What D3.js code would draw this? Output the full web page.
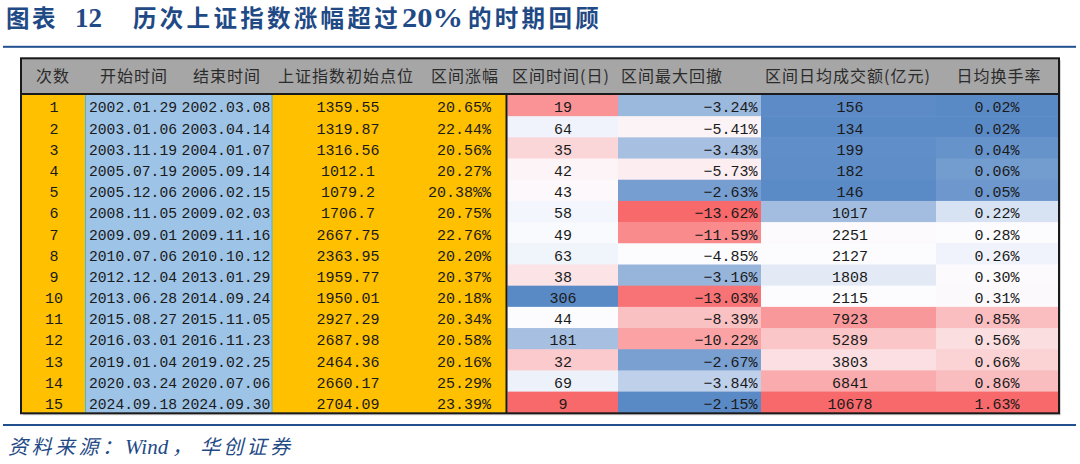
<!DOCTYPE html>
<html>
<head>
<meta charset="utf-8">
<script src="https://cdn.jsdelivr.net/npm/d3@7"></script>
<style>
  html, body { margin: 0; padding: 0; background: #fff; }
  svg { display: block; }
</style>
</head>
<body>
<div id="chart"></div>
<script>
// ---------------- DATA ----------------
const headers = ["次数", "开始时间", "结束时间", "上证指数初始点位", "区间涨幅", "区间时间(日)", "区间最大回撤", "区间日均成交额(亿元)", "日均换手率"];
const counts = [1, 2, 3, 4, 5, 6, 7, 8, 9, 10, 11, 12, 13, 14, 15];
const startDates = ["2002.01.29", "2003.01.06", "2003.11.19", "2005.07.19", "2005.12.06", "2008.11.05", "2009.09.01", "2010.07.06", "2012.12.04", "2013.06.28", "2015.08.27", "2016.03.01", "2019.01.04", "2020.03.24", "2024.09.18"];
const endDates = ["2002.03.08", "2003.04.14", "2004.01.07", "2005.09.14", "2006.02.15", "2009.02.03", "2009.11.16", "2010.10.12", "2013.01.29", "2014.09.24", "2015.11.05", "2016.11.23", "2019.02.25", "2020.07.06", "2024.09.30"];
const startLevels = ["1359.55", "1319.87", "1316.56", "1012.1", "1079.2", "1706.7", "2667.75", "2363.95", "1959.77", "1950.01", "2927.29", "2687.98", "2464.36", "2660.17", "2704.09"];
const gainLabels = ["20.65%", "22.44%", "20.56%", "20.27%", "20.38%%", "20.75%", "22.76%", "20.20%", "20.37%", "20.18%", "20.34%", "20.58%", "20.16%", "25.29%", "23.39%"];
const days = [19, 64, 35, 42, 43, 58, 49, 63, 38, 306, 44, 181, 32, 69, 9];
const drawdowns = [-3.24, -5.41, -3.43, -5.73, -2.63, -13.62, -11.59, -4.85, -3.16, -13.03, -8.39, -10.22, -2.67, -3.84, -2.15];
const turnovers = [156, 134, 199, 182, 146, 1017, 2251, 2127, 1808, 2115, 7923, 5289, 3803, 6841, 10678];
const turnoverRates = [0.02, 0.02, 0.04, 0.06, 0.05, 0.22, 0.28, 0.26, 0.30, 0.31, 0.85, 0.56, 0.66, 0.86, 1.63];

const titlePrefix = "图表";
const titleNum = "12";
const titleA = "历次上证指数涨幅超过";
const titlePct = "20%";
const titleB = "的时期回顾";
const sourceA = "资料来源：";
const sourceB = "Wind，";
const sourceC = "华创证券";

// ---------------- LAYOUT ----------------
const W = 1080, H = 464;
const RED = "#F8696B", WHITE = "#FCFCFF", BLUE = "#5A8AC6";
const YELLOW = "#FFC000", DATEBLUE = "#9DC3E6", HEADGRAY = "#A6A6A6";
const TITLECOL = "#1F4A86";

const tableLeft = 21, tableRight = 1059, tableTop = 58.3, headBottom = 94, tableBottom = 413.3;
const cjk = "'Noto Sans CJK SC', 'Noto Sans', sans-serif";
const mono = "'Liberation Mono', 'DejaVu Sans Mono', monospace";

const svg = d3.select("#chart").append("svg").attr("width", W).attr("height", H);

// Title
const tg = svg.append("g").attr("fill", TITLECOL).attr("font-weight", "bold");
tg.append("text").attr("x", 6).attr("y", 27).attr("font-family", cjk).attr("font-size", 23.5).attr("letter-spacing", 2.6).text(titlePrefix);
tg.append("text").attr("x", 75).attr("y", 27).attr("font-family", "'Liberation Serif', serif").attr("font-size", 27).text(titleNum);
tg.append("text").attr("x", 133).attr("y", 27).attr("font-family", cjk).attr("font-size", 23.5).attr("letter-spacing", 3.3).text(titleA);
tg.append("text").attr("x", 402).attr("y", 27).attr("font-family", "'Liberation Serif', serif").attr("font-size", 27)
  .attr("textLength", 61).attr("lengthAdjust", "spacingAndGlyphs").text(titlePct);
tg.append("text").attr("x", 468).attr("y", 27).attr("font-family", cjk).attr("font-size", 23.5).attr("letter-spacing", 3.3).text(titleB);

svg.append("rect").attr("x", 3).attr("y", 45.8).attr("width", 1073).attr("height", 2).attr("fill", "#22508F");

// Scales
const y = d3.scaleBand().domain(counts).range([headBottom + 1, tableBottom - 0.5]);
const rh = y.bandwidth();

function divScale(vals, colors) {
  return d3.scaleLinear()
    .domain([d3.min(vals), d3.median(vals), d3.max(vals)])
    .range(colors);
}
const cDays = divScale(days, [RED, WHITE, BLUE]);
const cDraw = divScale(drawdowns, [RED, WHITE, BLUE]);
const cTurn = divScale(turnovers, [BLUE, WHITE, RED]);
const cRate = divScale(turnoverRates, [BLUE, WHITE, RED]);

// shadow
svg.append("rect").attr("x", tableLeft + 2).attr("y", tableTop + 2).attr("width", tableRight - tableLeft).attr("height", tableBottom - tableTop)
  .attr("fill", "#d6d6d6");

// header background
svg.append("rect").attr("x", tableLeft).attr("y", tableTop).attr("width", tableRight - tableLeft).attr("height", headBottom - tableTop)
  .attr("fill", HEADGRAY);

// columns: [x0, x1]
const cols = {
  n: [tableLeft, 85.5],
  d: [85.5, 272],
  y2: [272, 506.5],
  days: [507.5, 618],
  draw: [618, 761],
  turn: [761, 936],
  rate: [936, tableRight]
};

const rows = svg.append("g");
rows.append("rect").attr("x", cols.n[0]).attr("y", y(counts[0])).attr("width", cols.n[1] - cols.n[0]).attr("height", rh * counts.length).attr("fill", YELLOW);
rows.append("rect").attr("x", cols.d[0]).attr("y", y(counts[0])).attr("width", cols.d[1] - cols.d[0]).attr("height", rh * counts.length).attr("fill", DATEBLUE);
rows.append("rect").attr("x", cols.y2[0]).attr("y", y(counts[0])).attr("width", cols.y2[1] - cols.y2[0]).attr("height", rh * counts.length).attr("fill", YELLOW);
[cols.d[0], cols.d[1]].forEach(x => {
  rows.append("line").attr("x1", x).attr("x2", x).attr("y1", y(counts[0])).attr("y2", tableBottom).attr("stroke", "#3FB6E6").attr("stroke-width", 1);
});

// heat cells
const heat = [
  { key: "days", vals: days, scale: cDays },
  { key: "draw", vals: drawdowns, scale: cDraw },
  { key: "turn", vals: turnovers, scale: cTurn },
  { key: "rate", vals: turnoverRates, scale: cRate }
];
heat.forEach(h => {
  rows.selectAll(null).data(h.vals).join("rect")
    .attr("x", cols[h.key][0]).attr("width", cols[h.key][1] - cols[h.key][0])
    .attr("y", (d, i) => y(counts[i])).attr("height", rh + 0.5)
    .attr("fill", d => h.scale(d));
});

// text
const tx = svg.append("g").attr("font-family", mono).attr("font-size", 15).attr("fill", "#1a1a1a");
const by = i => y(counts[i]) + rh / 2 + 6.8;
function col(data, x, anchor, fmt, len) {
  const s = tx.selectAll(null).data(data).join("text")
    .attr("x", x).attr("y", (d, i) => by(i)).attr("text-anchor", anchor)
    .text(fmt || (d => d));
  if (len) s.attr("textLength", len).attr("lengthAdjust", "spacingAndGlyphs");
}
col(counts, 54, "middle");
col(startDates, 89, "start", null, 88);
col(endDates, 181.5, "start", null, 89);
col(startLevels, 348, "middle");
col(gainLabels, 491, "end");
col(days, 563, "middle");
col(drawdowns, 757.5, "end", d => d3.format(".2f")(d) + "%");
col(turnovers, 850, "middle");
col(turnoverRates, 997, "middle", d => d3.format(".2f")(d) + "%");

// header text
const headX = [53, 134, 227, 346, 465, 561, 672, 848, 999];
svg.append("g").attr("font-family", cjk).attr("font-size", 16).attr("fill", "#2b2b2b").attr("letter-spacing", 1)
  .selectAll("text").data(headers).join("text")
  .attr("x", (d, i) => headX[i]).attr("y", 81.5).attr("text-anchor", "middle").text(d => d);

// borders
svg.append("line").attr("x1", tableLeft).attr("x2", tableRight).attr("y1", headBottom).attr("y2", headBottom).attr("stroke", "#1a1a1a").attr("stroke-width", 2);
svg.append("line").attr("x1", 506.5).attr("x2", 506.5).attr("y1", headBottom).attr("y2", tableBottom).attr("stroke", "#1a1a1a").attr("stroke-width", 2);
svg.append("rect").attr("x", tableLeft).attr("y", tableTop).attr("width", tableRight - tableLeft).attr("height", tableBottom - tableTop)
  .attr("fill", "none").attr("stroke", "#1a1a1a").attr("stroke-width", 2);

// source
svg.append("rect").attr("x", 3).attr("y", 424).attr("width", 1073).attr("height", 2).attr("fill", "#22508F");
const sg = svg.append("g").attr("fill", TITLECOL).attr("font-style", "italic");
sg.append("text").attr("x", 8).attr("y", 454).attr("font-family", cjk).attr("font-size", 20).attr("letter-spacing", 3.5).text(sourceA);
sg.append("text").attr("x", 125).attr("y", 454).attr("font-family", "'Liberation Serif', serif").attr("font-size", 21).text(sourceB.slice(0, -1));
sg.append("text").attr("x", 172).attr("y", 454).attr("font-family", cjk).attr("font-size", 20).text(sourceB.slice(-1));
sg.append("text").attr("x", 200).attr("y", 454).attr("font-family", cjk).attr("font-size", 20).attr("letter-spacing", 3.3).text(sourceC);
</script>
</body>
</html>
